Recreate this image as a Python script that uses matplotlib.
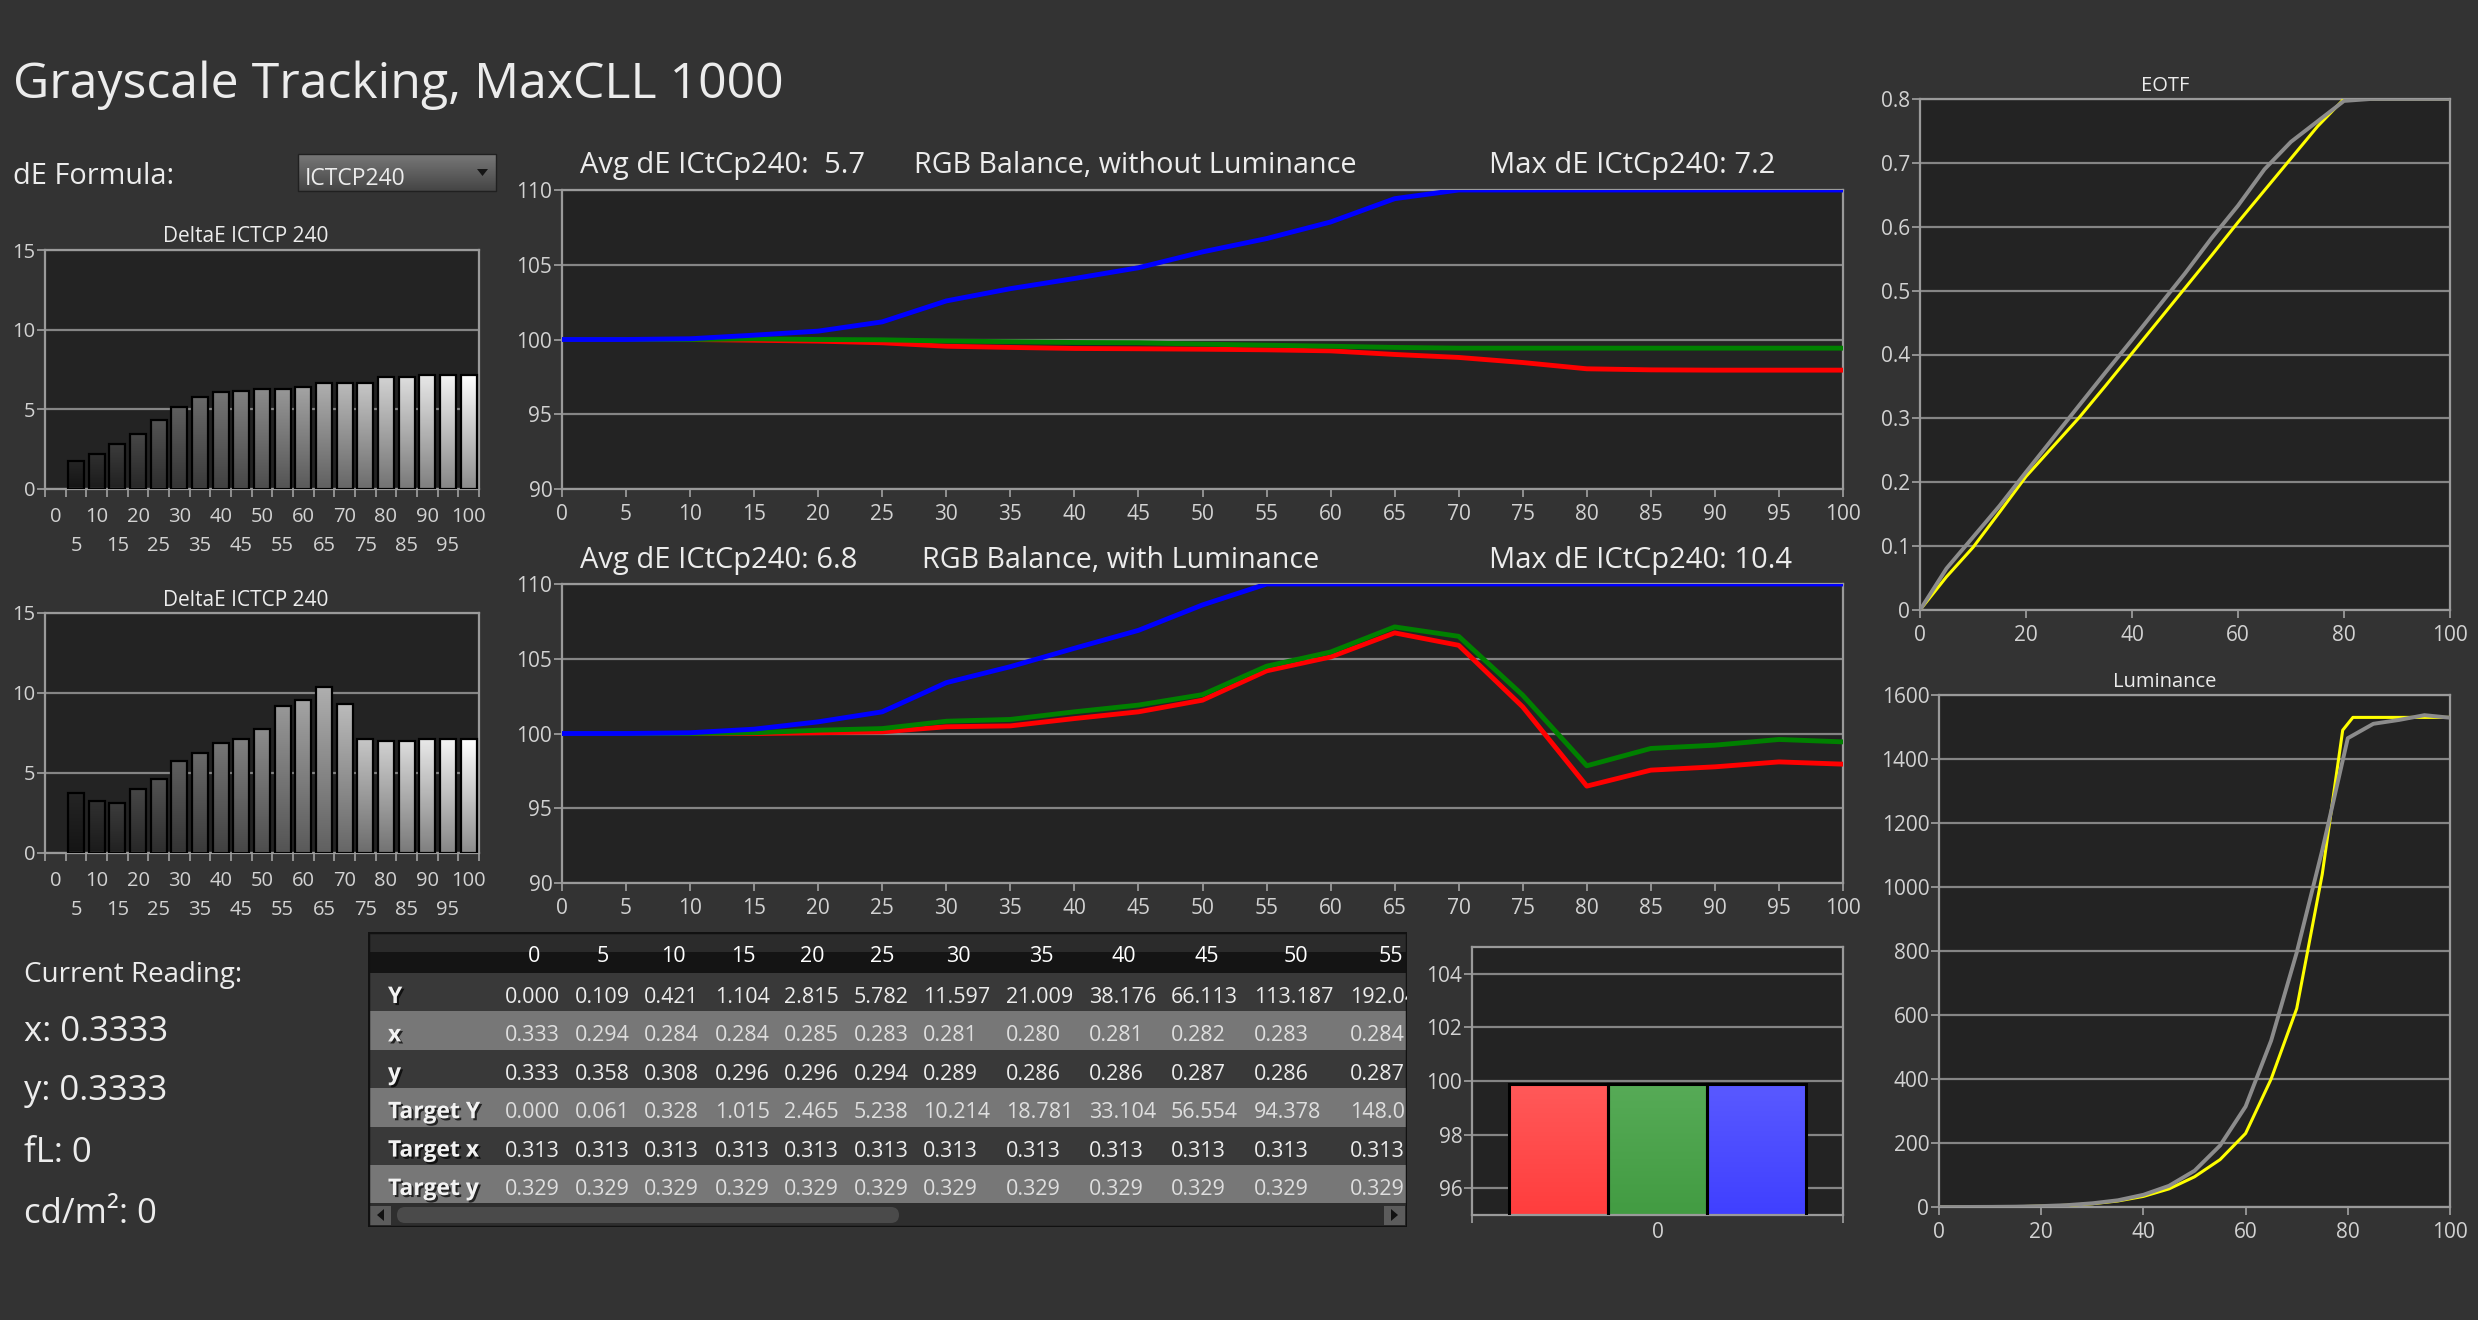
import numpy as np
import matplotlib
matplotlib.use("Agg")
import matplotlib.pyplot as plt
import matplotlib.transforms as mtransforms
import matplotlib.patheffects as pe
from matplotlib.patches import Rectangle, FancyBboxPatch, Polygon
from matplotlib.ticker import FuncFormatter

plt.rcParams['font.family'] = ['Open Sans', 'DejaVu Sans']

# ---------------- data ----------------
levels = list(range(0, 101, 5))

# DeltaE ICtCp 240 per grayscale step
de_without_lum = [0, 1.73, 2.21, 2.84, 3.47, 4.30, 5.14, 5.77, 6.06, 6.18, 6.29,
                  6.29, 6.39, 6.64, 6.64, 6.64, 7.02, 7.02, 7.17, 7.17, 7.17]
de_with_lum = [0, 3.78, 3.28, 3.12, 4.01, 4.63, 5.76, 6.27, 6.90, 7.11, 7.73,
               9.19, 9.56, 10.4, 9.31, 7.11, 7.00, 7.00, 7.11, 7.11, 7.11]

# RGB balance in %, the screen pins anything above 110 to the top
red_no_lum = [100, 100, 100, 99.95, 99.89, 99.78, 99.55, 99.47, 99.40, 99.38, 99.35,
              99.31, 99.24, 99.00, 98.80, 98.46, 98.04, 97.97, 97.95, 97.95, 97.95]
green_no_lum = [100, 100, 100, 100.05, 100.0, 99.98, 99.90, 99.85, 99.80, 99.78, 99.69,
                99.62, 99.55, 99.47, 99.42, 99.42, 99.42, 99.42, 99.42, 99.42, 99.42]
blue_no_lum = [100, 100, 100.05, 100.29, 100.56, 101.18, 102.58, 103.40, 104.08, 104.80, 105.86,
               106.75, 107.86, 109.42, 110, 110, 110, 110, 110, 110, 110]
red_lum = [100, 100, 100, 100, 100.05, 100.11, 100.45, 100.51, 101.0, 101.45, 102.23,
           104.19, 105.12, 106.73, 105.9, 101.78, 96.48, 97.55, 97.77, 98.1, 97.95]
green_lum = [100, 100, 100, 100.05, 100.22, 100.33, 100.82, 100.94, 101.45, 101.9, 102.6,
             104.5, 105.45, 107.13, 106.5, 102.56, 97.84, 99.0, 99.22, 99.6, 99.44]
blue_lum = [100, 100, 100.05, 100.29, 100.78, 101.45, 103.4, 104.47, 105.7, 106.9, 108.6,
            110, 110, 110, 110, 110, 110, 110, 110, 110, 110]

# EOTF (normalised)
eotf_target = [0, 0.052, 0.098, 0.153, 0.209, 0.255, 0.301, 0.351, 0.402, 0.453, 0.504,
               0.555, 0.607, 0.657, 0.707, 0.757, 0.80, 0.80, 0.80, 0.80, 0.80]
eotf_measured = [0, 0.065, 0.114, 0.163, 0.216, 0.268, 0.32, 0.372, 0.423, 0.475, 0.527,
                 0.582, 0.633, 0.69, 0.733, 0.765, 0.797, 0.80, 0.80, 0.80, 0.80]

# table (only first 12 columns visible)
table_cols = [0, 5, 10, 15, 20, 25, 30, 35, 40, 45, 50, 55]
table_Y = [0.000, 0.109, 0.421, 1.104, 2.815, 5.782, 11.597, 21.009, 38.176, 66.113, 113.187, 192.046]
table_x = [0.333, 0.294, 0.284, 0.284, 0.285, 0.283, 0.281, 0.280, 0.281, 0.282, 0.283, 0.284]
table_y = [0.333, 0.358, 0.308, 0.296, 0.296, 0.294, 0.289, 0.286, 0.286, 0.287, 0.286, 0.287]
target_Y = [0.000, 0.061, 0.328, 1.015, 2.465, 5.238, 10.214, 18.781, 33.104, 56.554, 94.378, 148.019]
target_x = [0.313, 0.313, 0.313, 0.313, 0.313, 0.313, 0.313, 0.313, 0.313, 0.313, 0.313, 0.313]
target_y = [0.329, 0.329, 0.329, 0.329, 0.329, 0.329, 0.329, 0.329, 0.329, 0.329, 0.329, 0.329]

# luminance in cd/m2
lum_measured = table_Y + [314, 520, 795, 1115, 1465, 1510, 1522, 1537, 1529]
lum_target_x = levels[:16] + [79, 81, 85, 90, 95, 100]
lum_target = target_Y + [230, 400, 620, 1040, 1490, 1530, 1530, 1530, 1530, 1530]

# current reading
current_rgb = [99.9, 99.9, 99.9]
current_x = 0.3333
current_y = 0.3333
current_fl = 0
current_cdm2 = 0

# ---------------- look ----------------
W, H = 2478, 1320
BG = '#333333'
PLOT_BG = '#232323'
GRID = '#858585'
FRAME = '#9a9a9a'
TXT = '#ececec'
TICK = '#d2d2d2'

fig = plt.figure(figsize=(W / 100, H / 100), dpi=100, facecolor=BG)


def px_axes(l, t, r, b):
    return fig.add_axes([l / W, 1 - b / H, (r - l) / W, (b - t) / H])


def ptext(x, y, s, **kw):
    kw.setdefault('color', TXT)
    kw.setdefault('va', 'baseline')
    return fig.text(x / W, 1 - y / H, s, **kw)


def style(ax, fs=15):
    ax.set_facecolor(PLOT_BG)
    for s in ax.spines.values():
        s.set_color(FRAME)
        s.set_linewidth(1.6)
    ax.tick_params(color=FRAME, labelcolor=TICK, labelsize=fs, length=5.5, width=1.3, pad=1.5)
    ax.tick_params(axis='x', pad=5.5)
    ax.grid(axis='y', color=GRID, lw=1.6)
    ax.set_axisbelow(True)


def grad_fill(ax, x0, x1, y0, y1, c_top, c_bot, z=2):
    if y1 <= y0:
        return
    g = np.linspace(0, 1, 64)[:, None]
    top = np.array(c_top)
    bot = np.array(c_bot)
    img = (bot + (top - bot) * g)[:, None, :]
    ax.imshow(img, extent=[x0, x1, y0, y1], origin='lower', aspect='auto',
              interpolation='bilinear', zorder=z)


# overlay in pixel units for the loose widgets
ov = px_axes(0, 0, W, H)
ov.axis('off')
g = np.linspace(0, 1, 32)[:, None]
box = (np.array([0.47] * 3) + (np.array([0.27] * 3) - np.array([0.47] * 3)) * g)[:, None, :]
ov.imshow(box, extent=(298, 496, 191, 154), origin='upper', aspect='auto')
ov.add_patch(Rectangle((298, 154), 198, 37, fill=False, ec='#202020', lw=1))
ov.add_patch(Polygon([(477, 169), (488, 169), (482.5, 176)], closed=True, fc='#151515', ec='none'))
ov.set_xlim(0, W)
ov.set_ylim(H, 0)

ptext(13, 98, 'Grayscale Tracking, MaxCLL 1000', fontsize=36)
ptext(13, 184, 'dE Formula:', fontsize=20.8)
ptext(305, 185, 'ICTCP240', fontsize=16.5)

ptext(24, 982, 'Current Reading:', fontsize=20)
ptext(24, 1041, f'x: {current_x:.4f}', fontsize=25)
ptext(24, 1100, f'y: {current_y:.4f}', fontsize=25)
ptext(24, 1162, f'fL: {current_fl}', fontsize=25)
ptext(24, 1223, f'cd/m²: {current_cdm2}', fontsize=25)


# ---------------- DeltaE bar charts ----------------
def de_chart(ax, vals):
    style(ax, 14.5)
    n = len(vals)
    w = 0.78
    for i, v in enumerate(vals):
        lv = 0.1 + 0.9 * i / (n - 1)
        grad_fill(ax, i - w / 2, i + w / 2, 0, v, (lv, lv, lv), (lv * 0.55,) * 3)
    bars = ax.bar(range(n), vals, width=w, facecolor='none', edgecolor='black', lw=1.6, zorder=3)
    for p, v in zip(bars.patches, vals):
        p.set_visible(v > 0)
    ax.set_xlim(-0.5, n - 0.5)
    ax.set_ylim(0, 15)
    ax.set_yticks([0, 5, 10, 15])
    ax.set_xticks(np.arange(n + 1) - 0.5)
    ax.set_xticklabels([])
    base = ax.get_xaxis_transform()
    t1 = mtransforms.offset_copy(base, y=-33, units='dots')
    t2 = mtransforms.offset_copy(base, y=-62, units='dots')
    for i, lv in enumerate(levels):
        ax.text(i, 0, str(lv), transform=t1 if i % 2 == 0 else t2, ha='center', va='baseline',
                fontsize=14.5, color=TICK)


ax_b1 = px_axes(45, 250, 479, 489)
de_chart(ax_b1, de_without_lum)
ax_b2 = px_axes(45, 613, 479, 853)
de_chart(ax_b2, de_with_lum)
ptext(246, 242, 'DeltaE ICTCP 240', ha='center', fontsize=15)
ptext(246, 606, 'DeltaE ICTCP 240', ha='center', fontsize=15)


# ---------------- RGB balance line charts ----------------
def rgb_chart(ax, r, gr, b):
    style(ax, 15)
    ax.plot(levels, r, color='#ff0000', lw=3.5, zorder=3)
    ax.plot(levels, gr, color='#008000', lw=3.5, zorder=3)
    ax.plot(levels, b, color='#0000ff', lw=3.5, zorder=3)
    ax.set_xlim(0, 100)
    ax.set_ylim(90, 110)
    ax.set_xticks(levels)
    ax.set_yticks([90, 95, 100, 105, 110])


ax_l1 = px_axes(562, 190, 1843, 489)
rgb_chart(ax_l1, red_no_lum, green_no_lum, blue_no_lum)
ax_l2 = px_axes(562, 584, 1843, 883)
rgb_chart(ax_l2, red_lum, green_lum, blue_lum)

ptext(580, 173, 'Avg dE ICtCp240:  5.7', fontsize=21)
ptext(914, 173, 'RGB Balance, without Luminance', fontsize=20.7)
ptext(1489, 173, 'Max dE ICtCp240: 7.2', fontsize=21)
ptext(580, 568, 'Avg dE ICtCp240: 6.8', fontsize=21)
ptext(922, 568, 'RGB Balance, with Luminance', fontsize=20.7)
ptext(1489, 568, 'Max dE ICtCp240: 10.4', fontsize=21)

# ---------------- EOTF ----------------
ax_e = px_axes(1920, 99, 2450, 610)
style(ax_e, 15)
ax_e.plot(levels, eotf_target, color='#ffff00', lw=2.2, zorder=3)
ax_e.plot(levels, eotf_measured, color='#8c8c8c', lw=2.8, zorder=3)
ax_e.set_xlim(0, 100)
ax_e.set_ylim(0, 0.8)
ax_e.set_xticks(range(0, 101, 20))
ax_e.set_yticks(np.arange(0, 0.81, 0.1))
ax_e.yaxis.set_major_formatter(FuncFormatter(lambda v, p: '0' if abs(v) < 1e-9 else f'{v:.1f}'))
ptext(2165, 91, 'EOTF', ha='center', fontsize=14.5)

# ---------------- Luminance ----------------
ax_m = px_axes(1939, 695, 2450, 1207)
style(ax_m, 15)
ax_m.plot(lum_target_x, lum_target, color='#ffff00', lw=2.2, zorder=3)
ax_m.plot(levels, lum_measured, color='#8c8c8c', lw=2.8, zorder=3)
ax_m.set_xlim(0, 100)
ax_m.set_ylim(0, 1600)
ax_m.set_xticks(range(0, 101, 20))
ax_m.set_yticks(range(0, 1601, 200))
ptext(2165, 687, 'Luminance', ha='center', fontsize=14.5)

# ---------------- current RGB bars ----------------
ax_c = px_axes(1472, 947, 1843, 1215)
style(ax_c, 15)
bar_pos = [-0.267, 0, 0.267]
bar_w = 0.267
bar_cols = [((1, 0.35, 0.35), (1, 0.24, 0.24)),
            ((0.34, 0.67, 0.34), (0.26, 0.61, 0.26)),
            ((0.35, 0.35, 1), (0.25, 0.25, 1))]
for x, v, (ct, cb) in zip(bar_pos, current_rgb, bar_cols):
    grad_fill(ax_c, x - bar_w / 2, x + bar_w / 2, 95, v, ct, cb)
ax_c.bar(bar_pos, current_rgb, width=bar_w, facecolor='none', edgecolor='black', lw=2.2, zorder=3)
ax_c.set_xlim(-0.5, 0.5)
ax_c.set_ylim(95, 105)
ax_c.set_yticks([96, 98, 100, 102, 104])
ax_c.set_xticks([-0.5, 0.5])
ax_c.set_xticklabels([])
ax_c.text(0, 0, '0', transform=mtransforms.offset_copy(ax_c.get_xaxis_transform(), y=-23, units='dots'),
          ha='center', va='baseline', fontsize=15, color=TICK)

# ---------------- data table ----------------
tb = px_axes(368, 932, 1407, 1227)
tb.axis('off')
tb.add_patch(Rectangle((368, 932), 1039, 20, fc='#2b2b2b', ec='none'))
tb.add_patch(Rectangle((368, 952), 1039, 21, fc='#141414', ec='none'))

row_names = ['Y', 'x', 'y', 'Target Y', 'Target x', 'Target y']
row_vals = [table_Y, table_x, table_y, target_Y, target_x, target_y]
col_left = [505, 575, 644, 715, 784, 854, 923, 1006, 1089, 1171, 1254, 1350]
col_head = [534, 603, 673, 743, 812, 882, 958, 1041, 1124, 1207, 1296, 1391]
row_h = 38.4
shadow = [pe.withSimplePatchShadow(offset=(1.5, -1.5), shadow_rgbFace='black', alpha=0.7)]

for c, xh in zip(table_cols, col_head):
    tb.text(xh, 962.5, str(c), ha='center', va='baseline', fontsize=15.5, color='white', clip_on=True)

for k, (name, vals) in enumerate(zip(row_names, row_vals)):
    top = 973 + k * row_h
    light = k % 2 == 1
    tb.add_patch(Rectangle((368, top), 1039, row_h, fc='#777777' if light else '#393939', ec='none'))
    tb.text(388, top + 30, name, fontsize=16.5, fontweight='bold', color='#f2f2f2',
            va='baseline', path_effects=shadow, clip_on=True)
    for xl, v in zip(col_left, vals):
        tb.text(xl, top + 30, f'{v:.3f}', fontsize=15.5, va='baseline',
                color='#dedede' if light else '#ececec', clip_on=True)

# scroll bar
tb.add_patch(Rectangle((368, 1203), 1039, 24, fc='#2e2e2e', ec='none'))
tb.add_patch(Rectangle((370, 1205.5), 21, 19, fc='#5c5c5c', ec='none'))
tb.add_patch(Polygon([(384, 1209), (384, 1221), (377, 1215)], closed=True, fc='#111111', ec='none'))
tb.add_patch(FancyBboxPatch((397, 1207), 502, 16, boxstyle='round,pad=0,rounding_size=8',
                            fc='#4a4a4a', ec='none'))
tb.add_patch(Rectangle((1384, 1205.5), 21, 19, fc='#5c5c5c', ec='none'))
tb.add_patch(Polygon([(1391, 1209), (1391, 1221), (1398, 1215)], closed=True, fc='#111111', ec='none'))
tb.add_patch(Rectangle((368, 932), 1039, 295, fill=False, ec='#111111', lw=2.5))
tb.set_xlim(368, 1407)
tb.set_ylim(1227, 932)

fig.savefig('out.png', dpi=100, facecolor=BG)
